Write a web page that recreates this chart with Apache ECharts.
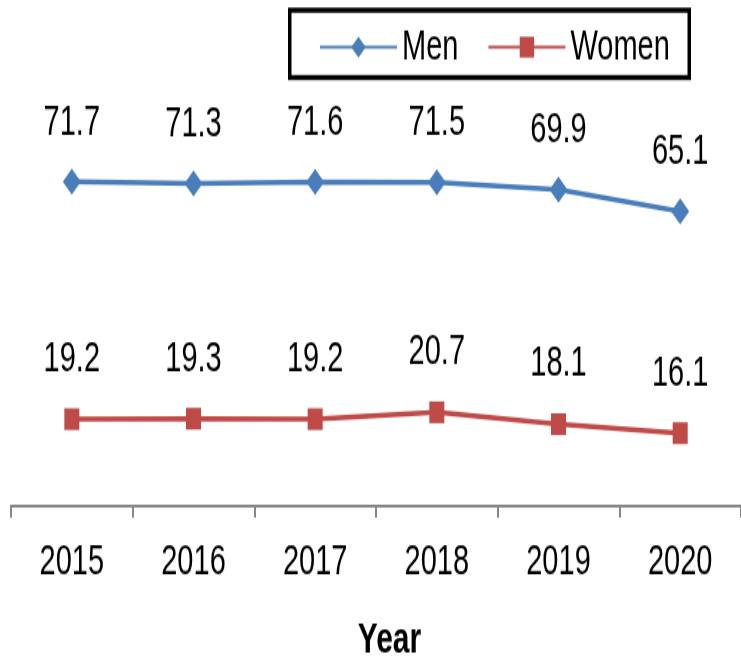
<!DOCTYPE html>
<html>
<head>
<meta charset="utf-8">
<script src="https://cdn.jsdelivr.net/npm/echarts@6/dist/echarts.min.js"></script>
<style>
html,body{margin:0;padding:0;background:#fff;overflow:hidden;width:741px;height:657px;}
#wrap{width:741px;height:657px;position:relative;overflow:hidden;}
#c{position:absolute;left:0;top:0;width:741px;height:453px;transform:scaleY(1.45);transform-origin:0 0;}
</style>
</head>
<body>
<div id="wrap"><div id="c"></div></div>
<script>
const years = ['2015','2016','2017','2018','2019','2020'];
const men = [71.7, 71.3, 71.6, 71.5, 69.9, 65.1];
const women = [19.2, 19.3, 19.2, 20.7, 18.1, 16.1];
const seriesNames = ['Men','Women'];
const axisTitle = 'Year';

const FONT = '"Liberation Sans", Arial, sans-serif';
const chart = echarts.init(document.getElementById('c'), null, {renderer:'canvas'});
chart.setOption({
  backgroundColor:'#fff',
  animation:false,
  grid:{left:11, width:733, top:68, height:281},
  legend:{
    data:seriesNames, left:314, top:13, itemWidth:77, itemHeight:18, itemGap:29,
    textStyle:{fontFamily:FONT, fontSize:29, color:'#000'}
  },
  graphic:[
    {type:'rect', shape:{x:289.75, y:7, width:399.5, height:46.5},
     style:{fill:'none', stroke:'#000', lineWidth:3.5}, silent:true},
    {type:'text', x:389.5, y:442, style:{text:axisTitle, fontFamily:FONT, fontSize:30, fontWeight:'bold',
      fill:'#000', align:'center', verticalAlign:'middle'}}
  ],
  xAxis:{
    type:'category', data:years, boundaryGap:true,
    axisLine:{lineStyle:{color:'#878787', width:2}},
    axisTick:{show:true, length:8, lineStyle:{color:'#878787', width:2}},
    axisLabel:{fontFamily:FONT, fontSize:29, color:'#000', margin:24}
  },
  yAxis:{type:'value', min:0, max:90, show:false, splitLine:{show:false}},
  series:[
    {name:seriesNames[0], type:'line', data:men, symbol:'diamond', symbolSize:18,
     itemStyle:{color:'#4A7EBB'}, lineStyle:{color:'#4A7EBB', width:3.5},
     label:{show:true, position:'top', distance:17, fontFamily:FONT, fontSize:29, color:'#000'}},
    {name:seriesNames[1], type:'line', data:women, symbol:'rect', symbolSize:15,
     itemStyle:{color:'#BE4B48'}, lineStyle:{color:'#BE4B48', width:3.5},
     label:{show:true, position:'top', distance:19, fontFamily:FONT, fontSize:29, color:'#000'}}
  ]
});
</script>
</body>
</html>
